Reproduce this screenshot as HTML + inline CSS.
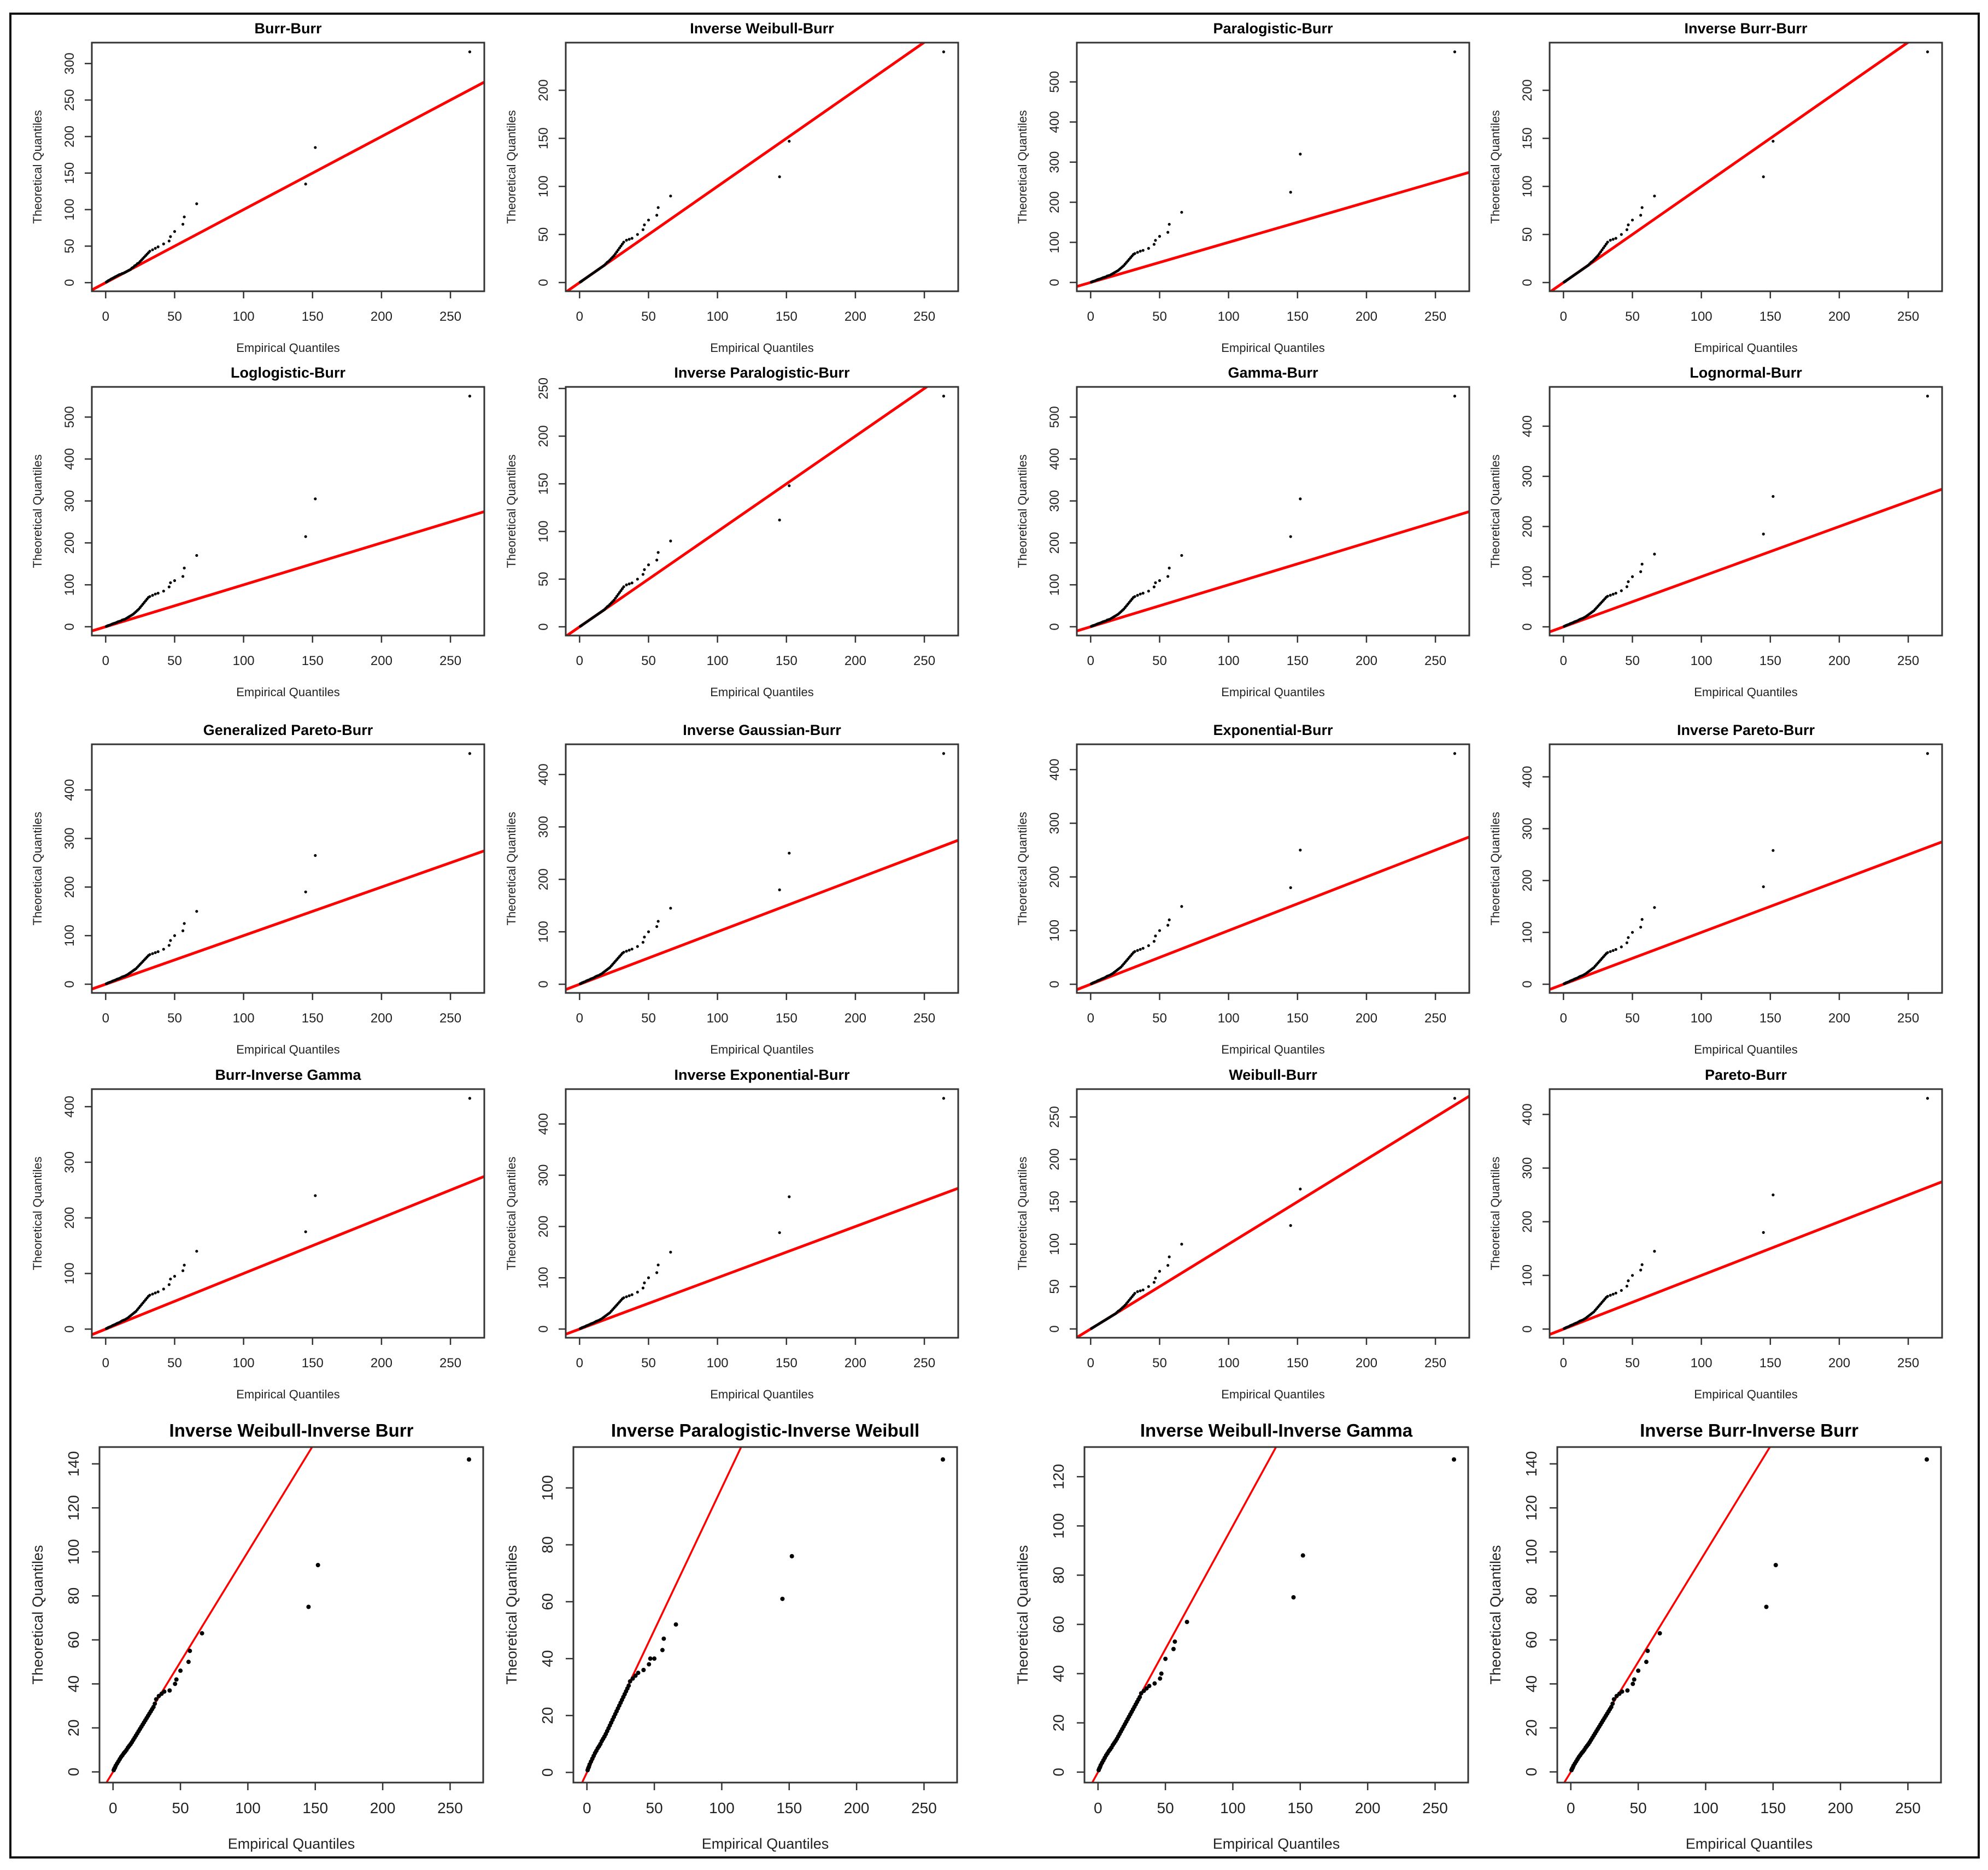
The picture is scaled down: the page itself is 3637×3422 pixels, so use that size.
<!DOCTYPE html>
<html><head><meta charset="utf-8">
<style>
html,body{margin:0;padding:0;background:#fff;}
svg{display:block;font-family:"Liberation Sans",Arial,sans-serif;}
</style></head>
<body>
<svg id="fig" width="3637" height="3422" viewBox="0 0 3637 3422" xmlns="http://www.w3.org/2000/svg">
<rect x="0" y="0" width="3637" height="3422" fill="#fff"/>
<rect x="19" y="25" width="3601" height="3374" fill="none" stroke="#111" stroke-width="4"/>
</svg>
<script>
// Empirical quantiles (shared x values)
const xBody = [0.5,1,1.5,2,3,4,5,6,7,8,9,10,11,12,13,14,15,16,17,18,19,20,21,22,23,24,25,26,27,28,29,30,31,32,34,36,38,42,46,47];
const xTail = [50,56,57,66,145,152,264];
// Theoretical quantile bodies
const bodyA = [0.8,1.5,2,2.8,3.8,5,6,7,8,9,10,11,11.5,12.5,13,14,15,16,17,18,20,21,23,24,26,27,29,31,33,35,37,39,41,43,45,47,49,53,57,63];
const bodyB = [0.5,1,1.5,2,3,4,5,6,7,8,9,10,11,12,13,14,15,16,17,18,19.5,21,22,23.5,25,26.5,28,30,32,34,36,38,40,42,44,45,46,50,55,60];
const bodyC = [1,1.5,2.5,3,4,5.5,7,8,9,10.5,12,13,14,16,17,18,20,22,24,26,28,30,33,36,39,42,46,50,54,58,62,66,70,72,75,78,80,85,95,105];
const bodyE = [1,1.5,2.2,3,4,5,6.5,7.5,8.5,10,11,12,13.5,15,16,17,18.5,20,22,24,26,28,30,32,35,38,41,44,47,50,53,56,59,61,63,65,67,72,80,90];
const bodyR5 = [0.8,1.5,2,2.8,3.8,4.8,5.8,6.8,7.6,8.5,9.2,10,11,11.8,12.6,13.5,14.5,15.5,16.5,17.5,18.5,19.5,20.5,21.5,22.5,23.5,24.5,25.5,26.5,27.5,28.5,29.5,31,33,34.5,35.5,36.5,37,40,42];
const bodyR5b = [0.8,1.5,2,2.8,3.8,4.8,5.8,6.8,7.6,8.5,9.2,10,11,11.8,12.6,13.5,14.5,15.5,16.5,17.5,18.5,19.5,20.5,21.5,22.5,23.5,24.5,25.5,26.5,27.5,28.5,29.5,30.5,32,33,34,35,36,38,40];
// Panel titles
const titles = ["Burr-Burr","Inverse Weibull-Burr","Paralogistic-Burr","Inverse Burr-Burr",
"Loglogistic-Burr","Inverse Paralogistic-Burr","Gamma-Burr","Lognormal-Burr",
"Generalized Pareto-Burr","Inverse Gaussian-Burr","Exponential-Burr","Inverse Pareto-Burr",
"Burr-Inverse Gamma","Inverse Exponential-Burr","Weibull-Burr","Pareto-Burr",
"Inverse Weibull-Inverse Burr","Inverse Paralogistic-Inverse Weibull","Inverse Weibull-Inverse Gamma","Inverse Burr-Inverse Burr"];
const bodies = [bodyA,bodyB,bodyC,bodyB, bodyC,bodyB,bodyC,bodyE, bodyE,bodyE,bodyE,bodyE, bodyE,bodyE,bodyB,bodyE, bodyR5,bodyR5b,bodyR5b,bodyR5];
// Tail theoretical values at x = 50,56,57,66,145,152,264
const tails = [
[70,80,90,108,135,185,316],
[65,70,78,90,110,147,240],
[115,125,145,175,225,320,575],
[65,70,78,90,110,147,240],
[110,120,140,170,215,305,550],
[65,70,78,90,112,148,242],
[110,120,140,170,215,305,550],
[100,110,125,145,185,260,460],
[100,110,125,150,190,265,475],
[100,110,120,145,180,250,440],
[100,110,120,145,180,250,430],
[100,110,125,148,188,258,445],
[95,105,115,140,175,240,415],
[100,110,125,150,188,258,450],
[68,75,85,100,122,165,272],
[100,110,120,145,180,250,430],
[46,50,55,63,75,94,142],
[40,43,47,52,61,76,110],
[46,50,53,61,71,88,127],
[46,50,55,63,75,94,142]];

const NS="http://www.w3.org/2000/svg";
const svg=document.getElementById('fig');
function mk(tag,attrs,parent){const e=document.createElementNS(NS,tag);for(const k in attrs)e.setAttribute(k,attrs[k]);(parent||svg).appendChild(e);return e;}
function pretty(lo,hi){const raw=(hi-lo)/5;const u=Math.pow(10,Math.floor(Math.log10(raw)));const r=raw/u;let s;if(r<1.5)s=1;else if(r<3.3)s=2;else if(r<7.5)s=5;else s=10;const st=s*u;const out=[];for(let v=Math.ceil(lo/st)*st;v<=hi+1e-9;v+=st)out.push(Math.round(v*1e6)/1e6);return out;}

const colLeft=[168,1035,1970,2835], rowTop=[78,708,1362,1993];
const colLeft5=[182,1049,1984,2849];
for(let p=0;p<20;p++){
  const row=Math.floor(p/4), col=p%4, big=row===4;
  const L=big?colLeft5[col]:colLeft[col];
  const T=big?2648:rowTop[row];
  const W=big?702:718, H=big?614:455;
  const xs=xBody.concat(xTail), ys=bodies[p].concat(tails[p]);
  const xmn=Math.min(...xs), xmx=Math.max(...xs), xr=xmx-xmn;
  const ymn=Math.min(...ys), ymx=Math.max(...ys), yr=ymx-ymn;
  const x0=xmn-0.04*xr, x1=xmx+0.04*xr, y0=ymn-0.04*yr, y1=ymx+0.04*yr;
  const sx=v=>L+(v-x0)/(x1-x0)*W;
  const sy=v=>T+H-(v-y0)/(y1-y0)*H;
  const g=mk('g',{});
  
  
  const fs=big?{t:33,k:28,a:27}:{t:27,k:24,a:22};
  const title=mk('text',{x:L+W/2,y:T-(big?19:17),'text-anchor':'middle','font-size':fs.t,'font-weight':'bold',fill:'#000'},g);
  title.textContent=titles[p];
  
  
  // clip
  const cp=mk('clipPath',{id:'c'+p},g);
  mk('rect',{x:L,y:T,width:W,height:H},cp);
  // red line y = x
  const ln=mk('line',{x1:sx(x0),y1:sy(x0),x2:sx(x1),y2:sy(x1),stroke:'#ff0000','stroke-width':big?3.5:5,'clip-path':'url(#c'+p+')'},g);
  
  
  // points
  for(let i=0;i<xs.length;i++){
    const c=mk('circle',{cx:sx(xs[i]),cy:sy(ys[i]),r:big?4:2.6,fill:'#000'},g);
    
    
  }
  // box
  const bx=mk('rect',{x:L,y:T,width:W,height:H,fill:'none',stroke:'#333','stroke-width':3},g);
  
  
  // x ticks
  const xt=pretty(x0,x1);
  const xtickLen=big?14:13;
  mk('line',{x1:sx(xt[0]),y1:T+H,x2:sx(xt[xt.length-1]),y2:T+H,stroke:'#333','stroke-width':2.5},g);
  xt.forEach(v=>{
    mk('line',{x1:sx(v),y1:T+H,x2:sx(v),y2:T+H+xtickLen,stroke:'#333','stroke-width':2.5},g);
    const t=mk('text',{x:sx(v),y:T+H+(big?56:54),'text-anchor':'middle','font-size':fs.k,fill:'#222'},g);
    t.textContent=v;
    
    
  });
  const yt=pretty(y0,y1);
  mk('line',{x1:L,y1:sy(yt[0]),x2:L,y2:sy(yt[yt.length-1]),stroke:'#333','stroke-width':2.5},g);
  yt.forEach(v=>{
    mk('line',{x1:L,y1:sy(v),x2:L-xtickLen,y2:sy(v),stroke:'#333','stroke-width':2.5},g);
    const tx=L-(big?38:33);
    const t=mk('text',{x:tx,y:sy(v),'text-anchor':'middle','font-size':fs.k,fill:'#222',transform:'rotate(-90 '+tx+' '+sy(v)+')'},g);
    t.textContent=v;
    
    
  });
  const xa=mk('text',{x:L+W/2,y:T+H+(big?121:111),'text-anchor':'middle','font-size':fs.a,fill:'#222'},g);
  xa.textContent='Empirical Quantiles';
  
  
  const ax=L-(big?104:92), ay=T+H/2;
  const ya=mk('text',{x:ax,y:ay,'text-anchor':'middle','font-size':fs.a,fill:'#222',transform:'rotate(-90 '+ax+' '+ay+')'},g);
  ya.textContent='Theoretical Quantiles';
  
  
}
</script>
</body></html>
